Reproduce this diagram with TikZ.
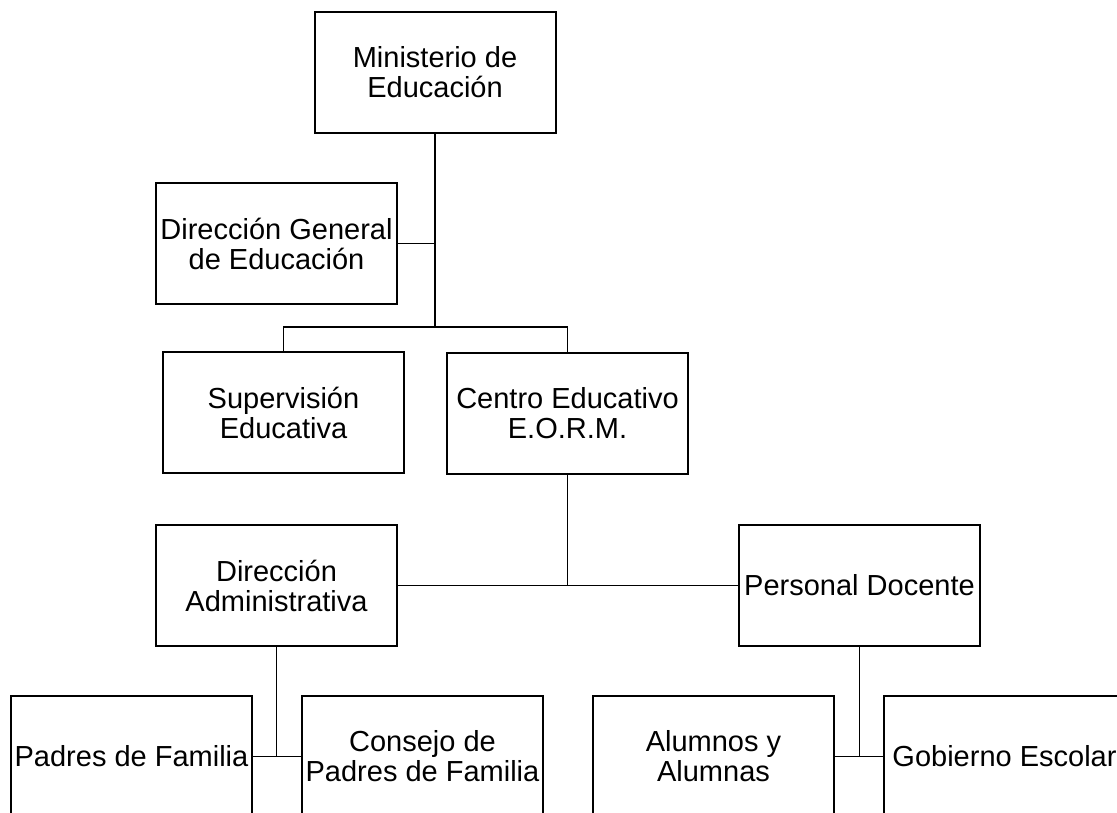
\documentclass[tikz,border=0pt]{standalone}
\usepackage{fontspec}
\setmainfont{Liberation Sans}
\usepackage{tikz}
\usetikzlibrary{positioning}

\begin{document}
\begin{tikzpicture}[x=1pt,y=-1pt]
\useasboundingbox (0,0) rectangle (1117,812);
\begin{scope}[every node/.style={draw,line width=2pt,align=center,inner sep=2pt,
    minimum width=241pt,minimum height=121pt,font=\fontsize{29}{30}\selectfont}]
    \node (min) at (435,72.5) {Ministerio de\\Educación};
    \node (dge) at (276.5,243.5) {Dirección General\\de Educación};
    \node (sup) at (283.5,412.5) {Supervisión\\Educativa};
    \node (centro) at (567.5,413.5) {Centro Educativo\\E.O.R.M.};
    \node (dadm) at (276.5,585.5) {Dirección\\Administrativa};
    \node (pdoc) at (859.5,585.5) {Personal Docente};
    \node (padres) at (131.5,756.5) {Padres de Familia};
    \node (consejo) at (422.5,756.5) {Consejo de\\Padres de Familia};
    \node (alumnos) at (713.5,756.5) {Alumnos y\\Alumnas};
    \node (gob) at (1004.5,756.5) {Gobierno Escolar};
\end{scope}
\coordinate (split) at (435,327);
\begin{scope}[every edge/.style={draw=black,line width=1.2pt}]
    \path (min.south) edge (split);
    \path (dge.east) edge (dge.east -| split);
    \draw[line width=1.2pt] (sup.north) |- (split) -| (centro.north);
    \path (centro.south) edge (centro.south |- dadm.east);
    \path (dadm.east) edge (pdoc.west);
    \path (dadm.south) edge (dadm.south |- padres.east);
    \path (padres.east) edge (consejo.west);
    \path (pdoc.south) edge (pdoc.south |- alumnos.east);
    \path (alumnos.east) edge (gob.west);
\end{scope}
\end{tikzpicture}
\end{document}
